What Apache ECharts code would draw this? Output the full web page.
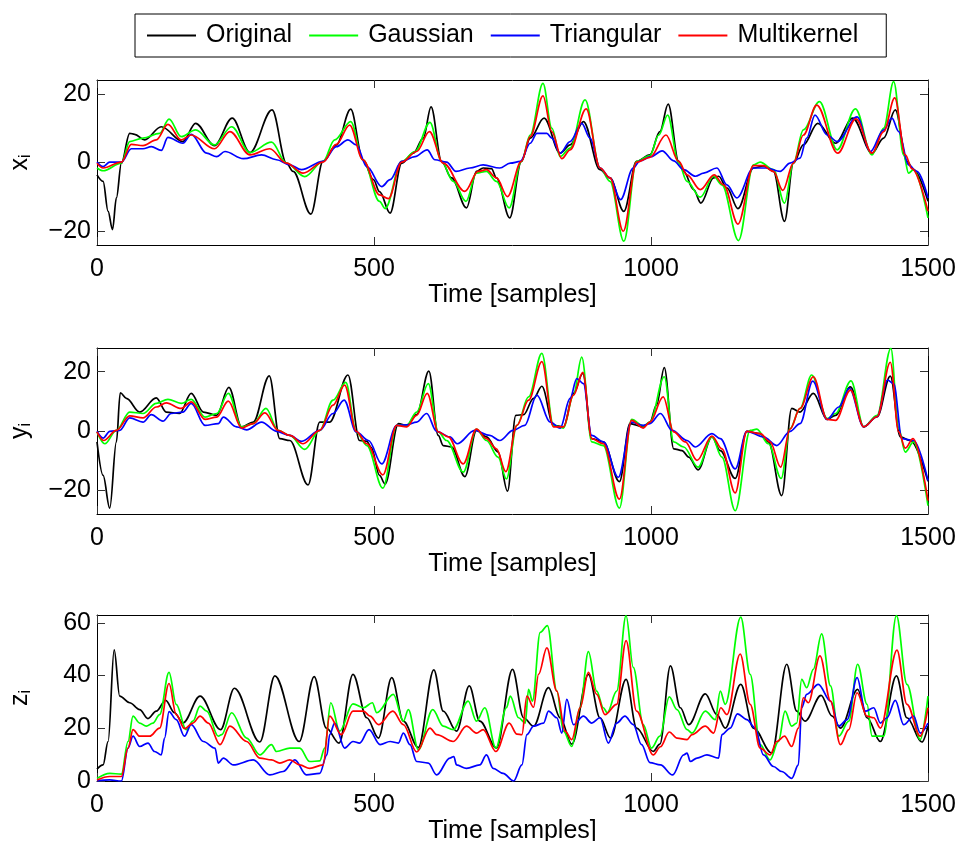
<!DOCTYPE html>
<html>
<head>
<meta charset="utf-8">
<script src="https://cdn.jsdelivr.net/npm/echarts@6/dist/echarts.min.js"></script>
<style>
html,body{margin:0;padding:0;background:#fff;}
#chart{width:956px;height:841px;}
</style>
</head>
<body>
<div id="chart"></div>
<script>
// ---------- data (sample index, value) ----------
const seriesNames = ['Original', 'Gaussian', 'Triangular', 'Multikernel'];
const xTickValues = [0, 500, 1000, 1500];
const yTickValues = [[-20, 0, 20], [-20, 0, 20], [0, 20, 40, 60]];
const yRanges = [[-24, 24], [-28, 28], [0, 63]];
const panelLabels = ['x', 'y', 'z'];

// Panel 1: x_i
const xOriginal = [[0,-3.6],[11,-5.5],[20,-14.2],[28,-19.5],[35,-10.3],[44,-0.2],[59,8.5],[68,8.2],[86,6.6],[116,10.4],[155,6.1],[178,11.4],[212,4.9],[244,12.9],[276,2.9],[316,15.3],[342,-0.2],[354,-2.6],[386,-15.0],[408,0.3],[432,5.1],[458,15.5],[480,0.8],[499,-5.0],[510,-8.5],[529,-14.7],[550,-0.2],[571,2.7],[589,7.1],[603,16.2],[622,0.3],[640,-4.5],[667,-13.2],[685,-2.6],[697,-1.6],[712,-1.8],[721,-4.5],[745,-16.1],[766,0.3],[782,7.1],[807,12.9],[836,2.7],[854,5.1],[878,11.9],[908,-2.1],[926,-4.5],[951,-14.2],[974,0.3],[998,2.2],[1016,9.0],[1031,17.0],[1050,0.3],[1059,-2.6],[1077,-7.9],[1090,-11.8],[1113,-4.5],[1122,-4.0],[1137,-7.4],[1157,-13.4],[1185,-1.6],[1203,-1.0],[1221,-2.6],[1241,-17.1],[1257,-0.2],[1275,5.1],[1301,11.4],[1333,5.6],[1364,12.9],[1399,2.7],[1420,7.1],[1441,15.3],[1462,0.3],[1474,-2.1],[1500,-11.3]];
const xGaussian = [[0,-1.6],[11,-2.4],[44,-0.2],[59,6.1],[83,7.1],[113,8.5],[130,12.6],[152,7.5],[178,9.5],[212,5.1],[243,10.4],[276,2.9],[315,5.9],[342,-0.2],[375,-4.1],[408,0.3],[429,6.6],[458,11.9],[480,0.8],[510,-11.3],[520,-13.4],[550,0.3],[574,3.2],[601,11.7],[622,0.3],[643,-5.5],[666,-11.3],[685,-3.1],[703,-2.6],[721,-5.5],[744,-13.2],[766,0.3],[782,8.0],[805,23.0],[821,10.0],[836,1.7],[854,4.2],[881,18.2],[908,-1.6],[926,-5.5],[951,-22.9],[974,0.3],[998,2.0],[1014,8.0],[1030,13.8],[1050,-0.2],[1065,-5.5],[1089,-10.1],[1113,-4.0],[1128,-6.5],[1158,-22.7],[1185,-0.7],[1197,0.1],[1221,-2.1],[1241,-11.8],[1257,-0.2],[1275,9.5],[1304,17.7],[1336,3.7],[1369,15.6],[1399,2.2],[1420,10.0],[1438,23.5],[1456,2.2],[1465,-3.1],[1474,-2.1],[1500,-16.1]];
const xTriangular = [[0,0.1],[11,-1.2],[23,0.1],[44,0.1],[62,4.0],[83,4.0],[98,4.6],[116,3.5],[128,7.3],[155,5.6],[170,8.2],[198,2.7],[216,1.7],[231,3.2],[264,1.1],[297,2.2],[324,0.8],[348,-0.7],[369,-2.1],[408,0.3],[432,4.6],[453,6.6],[468,5.1],[487,-1.2],[514,-7.0],[529,-5.0],[550,0.3],[574,1.7],[596,3.7],[610,0.8],[631,0.1],[648,-2.6],[673,-1.6],[697,-0.7],[727,-1.6],[746,-0.2],[764,0.3],[782,5.6],[794,8.5],[812,8.5],[821,7.1],[836,2.7],[854,6.1],[875,11.4],[890,7.1],[908,-1.6],[926,-4.5],[945,-10.8],[968,-1.6],[980,0.5],[1000,1.7],[1020,3.4],[1041,0.5],[1059,-2.1],[1080,-4.0],[1095,-3.1],[1119,-1.6],[1137,-6.5],[1155,-10.3],[1185,-1.6],[1209,-1.6],[1233,-2.6],[1251,-0.2],[1269,1.3],[1281,7.1],[1296,13.8],[1318,8.0],[1336,6.1],[1372,13.3],[1396,3.2],[1420,9.5],[1435,12.9],[1447,9.0],[1465,-0.7],[1480,-2.6],[1500,-10.3]];
const xMultikernel = [[0,-0.2],[11,-1.6],[44,0.1],[62,5.3],[83,4.9],[107,6.6],[128,11.1],[152,6.6],[170,8.0],[212,4.0],[240,9.0],[276,2.2],[312,4.0],[342,-0.2],[372,-3.1],[408,0.1],[432,5.3],[456,10.9],[480,0.8],[510,-9.4],[526,-10.5],[550,0.1],[577,3.2],[600,9.0],[625,-0.2],[664,-8.4],[688,-2.6],[703,-2.1],[721,-4.5],[741,-9.9],[766,0.3],[782,7.5],[805,19.4],[821,9.0],[839,1.1],[854,3.7],[883,15.6],[908,-1.6],[926,-4.5],[950,-20.0],[974,0.1],[998,1.5],[1027,8.0],[1050,0.3],[1065,-3.6],[1089,-7.9],[1114,-3.6],[1131,-6.5],[1157,-17.9],[1185,-0.9],[1203,-0.9],[1221,-2.6],[1238,-8.1],[1257,-0.2],[1275,8.0],[1299,16.7],[1337,2.7],[1370,12.7],[1399,2.7],[1420,9.0],[1440,18.8],[1459,2.2],[1471,-1.8],[1500,-14.2]];

// Panel 2: y_i
const yOriginal = [[0,-3.7],[11,-15.0],[23,-26.0],[35,-3.7],[42,12.9],[53,11.0],[77,6.4],[107,11.2],[125,6.4],[149,5.9],[170,12.7],[192,6.4],[216,5.3],[238,14.7],[261,1.4],[282,3.0],[311,18.6],[330,-2.6],[348,-3.2],[381,-18.2],[402,3.0],[420,3.0],[453,18.9],[474,-3.2],[487,-3.5],[495,-5.5],[510,-15.0],[520,-17.9],[544,2.5],[559,1.9],[577,5.5],[599,20.2],[616,-1.5],[625,-4.9],[640,-5.4],[664,-15.4],[685,0.2],[703,-2.0],[724,-7.1],[741,-20.3],[756,5.3],[770,5.5],[788,11.0],[803,15.1],[824,1.9],[842,1.4],[860,12.7],[877,19.4],[893,-2.6],[914,-3.7],[943,-17.1],[962,2.5],[986,1.4],[998,3.0],[1010,8.7],[1024,21.4],[1041,-6.0],[1056,-6.6],[1068,-8.8],[1085,-13.1],[1110,-2.0],[1125,-6.6],[1152,-16.0],[1173,-0.1],[1197,-0.9],[1212,-3.7],[1236,-21.8],[1254,7.6],[1269,6.4],[1293,12.7],[1318,3.9],[1333,5.3],[1360,14.9],[1384,1.4],[1408,4.8],[1432,18.5],[1450,-2.0],[1468,-3.2],[1500,-17.0]];
const yGaussian = [[0,-0.3],[14,-4.3],[35,0.2],[59,6.4],[83,5.9],[107,9.3],[128,10.7],[152,9.3],[170,10.7],[195,4.7],[216,5.9],[237,12.7],[261,1.4],[282,2.5],[305,7.6],[327,0.2],[348,-1.5],[375,-6.2],[402,0.2],[426,10.4],[449,16.4],[468,-0.3],[487,-4.9],[516,-19.3],[541,1.9],[559,1.9],[577,6.4],[598,16.0],[616,-0.3],[631,-3.2],[661,-13.9],[685,0.6],[703,-3.2],[724,-8.8],[739,-16.2],[758,1.9],[779,11.5],[803,26.2],[824,1.9],[842,1.0],[860,12.1],[875,24.9],[893,-3.7],[914,-4.9],[943,-26.0],[965,3.9],[986,1.7],[998,3.0],[1024,18.3],[1041,-3.7],[1059,-5.4],[1085,-12.2],[1110,-2.0],[1128,-8.8],[1152,-26.9],[1179,0.2],[1191,0.6],[1212,-4.3],[1235,-16.0],[1251,0.8],[1269,7.6],[1290,18.9],[1318,4.2],[1333,5.9],[1361,16.9],[1384,1.4],[1408,5.3],[1433,27.9],[1447,0.8],[1459,-7.1],[1474,-3.7],[1500,-25.2]];
const yTriangular = [[0,-0.1],[11,-2.4],[23,-0.1],[41,0.2],[59,4.4],[83,3.0],[98,5.5],[119,3.3],[134,5.9],[155,6.4],[170,9.3],[195,1.9],[219,2.5],[228,4.7],[252,1.4],[270,0.4],[297,3.0],[324,-0.1],[348,-1.5],[369,-3.5],[402,0.2],[426,5.9],[446,10.4],[468,-0.3],[490,-3.2],[514,-11.1],[541,1.9],[559,2.1],[577,3.0],[595,5.9],[613,-0.1],[637,-2.0],[650,-4.3],[682,0.2],[709,-1.5],[727,-3.2],[751,0.2],[772,1.9],[794,12.1],[818,3.0],[836,1.0],[854,11.0],[866,17.7],[878,16.0],[893,-1.5],[914,-3.7],[941,-15.6],[965,3.0],[986,1.9],[998,2.5],[1017,5.9],[1038,0.2],[1065,-3.2],[1080,-5.4],[1110,-0.9],[1125,-2.6],[1152,-12.8],[1173,-0.1],[1203,-2.0],[1227,-4.9],[1251,-0.1],[1269,2.5],[1292,16.8],[1318,3.9],[1339,8.1],[1358,14.4],[1384,1.4],[1408,4.8],[1427,17.2],[1438,16.0],[1453,-2.6],[1474,-3.2],[1500,-16.7]];
const yMultikernel = [[0,-0.3],[12,-3.2],[35,0.2],[59,5.1],[83,4.4],[107,8.1],[125,9.5],[152,7.6],[170,9.8],[195,3.9],[216,4.7],[237,10.1],[261,1.0],[282,2.5],[303,6.1],[327,0.2],[348,-1.5],[372,-4.3],[402,0.2],[426,8.7],[447,15.5],[468,-0.1],[487,-4.3],[516,-14.8],[541,1.9],[559,1.4],[577,5.3],[596,12.7],[616,-0.3],[634,-2.0],[661,-11.1],[685,0.6],[703,-2.6],[721,-6.0],[738,-13.7],[758,1.9],[779,10.4],[803,23.4],[824,1.4],[842,1.4],[860,12.1],[877,19.8],[893,-2.6],[914,-4.3],[943,-23.0],[965,3.6],[986,1.0],[998,3.0],[1022,11.5],[1041,-0.3],[1062,-3.7],[1083,-9.9],[1110,-1.7],[1128,-6.0],[1152,-20.9],[1173,-0.1],[1197,-0.9],[1215,-3.7],[1234,-12.2],[1251,0.6],[1269,7.6],[1293,18.3],[1318,3.9],[1333,3.6],[1360,13.8],[1384,1.4],[1408,4.8],[1432,23.2],[1447,-0.3],[1459,-5.8],[1473,-2.6],[1500,-23.5]];

// Panel 3: z_i
const zOriginal = [[0,4.5],[11,6.1],[20,15.0],[31,49.8],[41,32.2],[59,29.7],[77,27.1],[92,23.7],[107,26.5],[124,30.6],[140,25.9],[155,22.0],[186,32.2],[223,19.5],[248,35.2],[294,14.8],[321,39.9],[365,15.0],[392,39.6],[414,20.1],[437,14.4],[462,40.5],[487,24.0],[508,16.3],[532,39.2],[553,22.7],[580,12.7],[608,42.2],[625,26.5],[649,18.9],[672,36.1],[691,22.7],[721,12.5],[750,42.4],[770,24.0],[788,20.8],[815,35.4],[836,24.0],[857,14.0],[887,40.5],[908,24.0],[927,16.3],[955,38.6],[974,20.1],[1004,11.2],[1016,14.0],[1035,43.7],[1053,27.8],[1068,21.4],[1098,33.1],[1119,25.2],[1134,20.1],[1162,36.7],[1185,20.1],[1218,10.6],[1245,44.3],[1263,26.5],[1278,22.7],[1307,32.5],[1327,24.6],[1342,20.1],[1373,34.8],[1390,24.0],[1414,15.0],[1443,39.9],[1462,24.0],[1489,14.8],[1500,20.8]];
const zGaussian = [[0,1.0],[23,2.9],[44,2.6],[56,15.0],[65,24.6],[77,22.0],[89,20.8],[101,22.0],[113,25.2],[130,41.2],[143,29.1],[161,19.5],[173,22.7],[186,28.4],[198,26.5],[219,17.0],[225,17.6],[243,25.9],[270,16.3],[294,9.9],[315,13.8],[324,11.2],[348,12.5],[366,12.5],[384,7.4],[402,7.6],[411,12.5],[422,29.7],[438,18.9],[462,29.3],[481,27.8],[497,29.7],[505,25.9],[535,32.9],[553,22.7],[562,27.1],[580,11.9],[606,27.1],[625,20.8],[643,19.5],[670,30.3],[685,22.7],[700,27.8],[720,12.5],[739,27.8],[746,32.2],[761,24.0],[773,22.0],[779,34.8],[786,30.3],[800,56.4],[813,59.0],[830,34.1],[842,18.9],[857,13.1],[872,27.8],[887,49.1],[902,34.1],[914,27.8],[921,25.9],[938,34.1],[955,62.8],[968,43.1],[986,21.4],[1001,12.5],[1016,17.0],[1033,31.9],[1047,27.1],[1065,19.5],[1074,18.2],[1098,26.5],[1116,23.3],[1125,34.1],[1134,29.1],[1162,62.2],[1179,40.5],[1197,13.8],[1215,8.0],[1230,15.0],[1242,26.5],[1254,20.8],[1263,22.0],[1272,38.6],[1281,35.4],[1293,42.4],[1308,55.8],[1324,36.1],[1339,17.0],[1357,22.7],[1373,44.3],[1390,29.1],[1399,17.0],[1420,17.0],[1443,62.8],[1462,36.7],[1486,15.7],[1500,32.2]];
const zTriangular = [[0,0],[23,0.4],[44,0],[56,12.5],[65,17.0],[77,13.1],[92,14.4],[104,11.2],[116,9.9],[122,16.3],[130,26.3],[143,23.3],[158,17.0],[170,21.4],[192,15.0],[213,12.5],[219,6.8],[228,8.7],[246,6.1],[282,8.0],[312,2.3],[336,3.6],[357,8.0],[378,2.3],[402,2.9],[415,9.9],[420,17.6],[429,22.0],[447,12.5],[462,15.0],[474,14.4],[491,19.5],[511,13.8],[529,15.0],[544,14.4],[553,18.2],[565,13.8],[577,7.4],[598,6.8],[613,2.3],[637,8.7],[644,9.3],[649,6.1],[667,4.8],[691,6.1],[703,9.9],[715,4.8],[733,2.9],[752,0.0],[767,6.1],[776,17.6],[788,20.8],[806,22.0],[815,26.5],[830,24.0],[839,18.2],[848,31.0],[860,21.4],[878,24.6],[893,22.0],[908,24.0],[923,14.4],[938,22.0],[953,24.6],[968,21.4],[983,13.8],[998,7.0],[1017,6.1],[1039,2.3],[1059,9.9],[1065,10.6],[1071,7.4],[1083,8.7],[1101,9.9],[1122,8.7],[1128,17.6],[1143,20.1],[1156,25.5],[1173,23.3],[1188,20.1],[1203,9.9],[1221,5.5],[1236,3.6],[1254,1.0],[1266,6.1],[1272,27.8],[1281,32.9],[1302,36.7],[1324,30.3],[1339,20.8],[1354,23.3],[1372,39.2],[1387,26.5],[1402,27.8],[1414,22.0],[1426,24.0],[1441,30.6],[1456,21.4],[1474,24.6],[1486,18.2],[1500,22.0]];
const zMultikernel = [[0,0.4],[23,1.7],[44,1.7],[56,12.5],[65,19.5],[77,17.0],[95,17.0],[113,20.1],[130,37.0],[143,25.2],[158,19.9],[173,22.0],[186,24.6],[201,22.0],[222,13.8],[240,20.8],[270,15.0],[294,8.7],[315,8.0],[330,6.8],[348,8.0],[366,6.1],[384,4.8],[408,6.1],[420,24.6],[441,17.6],[462,26.5],[481,26.5],[493,24.6],[508,21.4],[534,26.5],[553,21.4],[577,11.0],[601,20.1],[613,17.6],[643,15.0],[667,20.8],[685,18.2],[697,19.5],[720,11.2],[744,22.0],[758,17.8],[767,17.6],[776,32.2],[788,28.0],[797,40.5],[812,50.5],[830,34.1],[845,18.9],[857,15.7],[872,27.8],[887,41.2],[902,32.9],[917,25.2],[938,29.1],[955,53.3],[974,26.5],[1004,9.9],[1017,13.0],[1033,18.6],[1047,16.3],[1065,15.7],[1074,17.6],[1098,20.8],[1113,18.2],[1126,27.8],[1137,25.2],[1161,48.2],[1179,29.1],[1197,12.5],[1215,9.9],[1227,15.0],[1241,17.0],[1254,13.1],[1266,20.1],[1275,31.6],[1284,29.7],[1305,47.5],[1324,30.3],[1342,13.8],[1357,19.5],[1372,33.5],[1390,24.6],[1402,24.0],[1414,20.1],[1444,49.7],[1462,29.1],[1486,17.0],[1500,27.8]];

const panelData = [
  [xOriginal, xGaussian, xTriangular, xMultikernel],
  [yOriginal, yGaussian, yTriangular, yMultikernel],
  [zOriginal, zGaussian, zTriangular, zMultikernel]
];

// ---------- styling / layout ----------
const FONT = '"Liberation Sans", Arial, Helvetica, sans-serif';
const colors = ['#000000', '#00ff00', '#0000ff', '#ff0000'];
const grids = [
  {left: 97, top: 80, width: 831, height: 165},
  {left: 97, top: 348, width: 831, height: 166},
  {left: 97, top: 615, width: 831, height: 166}
];

const chart = echarts.init(document.getElementById('chart'), null, {renderer: 'canvas'});

const xAxes = [], yAxes = [], series = [];
const lineAxis = {show: true, onZero: false, lineStyle: {color: '#000', width: 1}};
const tick = {show: true, inside: true, length: 8, lineStyle: {color: '#333', width: 1}};
const plainNum = v => (v < 0 ? '\u2212' + Math.abs(v) : String(v));

grids.forEach((g, i) => {
  xAxes.push({
    type: 'value', gridIndex: i, min: 0, max: 1500, interval: 500, position: 'bottom',
    axisLine: lineAxis, axisTick: tick, splitLine: {show: false},
    axisLabel: {show: true, color: '#000', fontSize: 25, fontFamily: FONT, margin: 12, formatter: plainNum},
    name: 'Time [samples]', nameLocation: 'middle', nameGap: 35,
    nameTextStyle: {color: '#000', fontSize: 25, fontFamily: FONT}
  });
  xAxes.push({
    type: 'value', gridIndex: i, min: 0, max: 1500, interval: 500, position: 'top',
    axisLine: lineAxis, axisTick: tick, splitLine: {show: false}, axisLabel: {show: false}
  });
  yAxes.push({
    type: 'value', gridIndex: i, min: yRanges[i][0], max: yRanges[i][1], position: 'left',
    axisLine: lineAxis,
    axisTick: Object.assign({}, tick, {customValues: yTickValues[i]}),
    splitLine: {show: false},
    axisLabel: {show: true, color: '#000', fontSize: 25, fontFamily: FONT, margin: 6,
      customValues: yTickValues[i], formatter: plainNum},
    name: panelLabels[i] + '{sub|i}', nameLocation: 'middle', nameGap: 63, nameRotate: 90,
    nameTextStyle: {color: '#000', fontSize: 25, fontFamily: FONT,
      rich: {sub: {fontSize: 16, fontFamily: FONT, color: '#000', verticalAlign: 'bottom', padding: [12, 0, 0, 0]}}}
  });
  yAxes.push({
    type: 'value', gridIndex: i, min: yRanges[i][0], max: yRanges[i][1], position: 'right',
    axisLine: lineAxis,
    axisTick: Object.assign({}, tick, {customValues: yTickValues[i]}),
    splitLine: {show: false}, axisLabel: {show: false}
  });
  panelData[i].forEach((d, k) => {
    series.push({
      type: 'line', name: seriesNames[k], xAxisIndex: 2 * i, yAxisIndex: 2 * i,
      data: d, showSymbol: false, symbol: 'none', smooth: 0.35, smoothMonotone: 'x',
      lineStyle: {color: colors[k], width: 1.7}, itemStyle: {color: colors[k]},
      clip: true, silent: true
    });
  });
});

chart.setOption({
  animation: false,
  backgroundColor: '#fff',
  grid: grids.map(g => Object.assign({outerBoundsMode: 'none', containLabel: false}, g)),
  legend: {
    data: seriesNames, left: 135, top: 14, orient: 'horizontal',
    padding: [9, 28, 9, 12], itemGap: 17, itemWidth: 49, itemHeight: 2, icon: 'rect',
    borderColor: '#000', borderWidth: 1, backgroundColor: '#fff',
    textStyle: {color: '#000', fontSize: 25, fontFamily: FONT, padding: [0, 0, 0, 5]}
  },
  xAxis: xAxes,
  yAxis: yAxes,
  series: series
});
</script>
</body>
</html>
